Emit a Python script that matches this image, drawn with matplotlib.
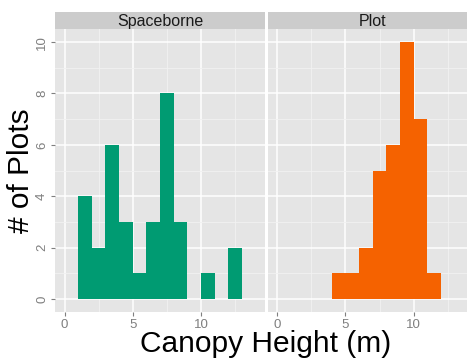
import numpy as np
import matplotlib
matplotlib.use('Agg')
import matplotlib.pyplot as plt

# histogram bins (width 1 m) and counts
bin_left = np.arange(0, 14)
spaceborne_counts = [0, 4, 2, 6, 3, 1, 3, 8, 3, 0, 1, 0, 2, 0]
plot_counts = [0, 0, 0, 0, 1, 1, 2, 5, 6, 10, 7, 1, 0, 0]

panels = ['Spaceborne', 'Plot']
colors = ['#009B72', '#F56200']
x_ticks = [0, 5, 10]
y_ticks = [0, 2, 4, 6, 8, 10]

plt.rcParams['font.family'] = ['Liberation Sans', 'DejaVu Sans']

W, H = 467, 358
fig = plt.figure(figsize=(W / 100, H / 100), dpi=100)

panel_w = 210
lefts = [55, 267.7]
top, bottom = 29.3, 311.7
strip_top = 11.7

for i, (name, counts, col) in enumerate(zip(panels, [spaceborne_counts, plot_counts], colors)):
    ax = fig.add_axes([lefts[i] / W, (H - bottom) / H, panel_w / W, (bottom - top) / H])
    ax.set_facecolor('#E5E5E5')
    ax.bar(bin_left, counts, width=1, align='edge', color=col, linewidth=0, zorder=3)
    ax.set_xlim(-0.7, 14.7)
    ax.set_ylim(-0.5, 10.5)
    ax.set_xticks(x_ticks)
    ax.set_xticks([2.5, 7.5, 12.5], minor=True)
    ax.set_yticks(y_ticks)
    ax.set_yticks([1, 3, 5, 7, 9], minor=True)
    ax.grid(which='major', color='white', linewidth=1.1, zorder=1)
    ax.grid(which='minor', color='#F2F2F2', linewidth=0.6, zorder=1)
    ax.set_axisbelow(True)
    for s in ax.spines.values():
        s.set_visible(False)
    ax.tick_params(which='minor', length=0)
    ax.tick_params(which='major', colors='#7F7F7F', labelsize=9.5, length=3, width=0.8, pad=2)
    if i == 0:
        for lab in ax.get_yticklabels():
            lab.set_rotation(90)
            lab.set_va('center')
    else:
        ax.tick_params(axis='y', left=False, labelleft=False)

    # facet strip
    sax = fig.add_axes([lefts[i] / W, (H - top) / H, panel_w / W, (top - strip_top) / H])
    sax.set_facecolor('#CCCCCC')
    sax.set_xticks([])
    sax.set_yticks([])
    for s in sax.spines.values():
        s.set_visible(False)
    sax.text(0.5, 0.45, name, ha='center', va='center', fontsize=11.5,
             color='#1A1A1A', transform=sax.transAxes)

fig.text(266 / W, 6.3 / H, 'Canopy Height (m)', ha='center', va='baseline', fontsize=21.5)
fig.text(21 / W, (H - 170.5) / H, '# of Plots', ha='center', va='center',
         rotation=90, fontsize=21.5)

fig.savefig('out.png', dpi=100)
